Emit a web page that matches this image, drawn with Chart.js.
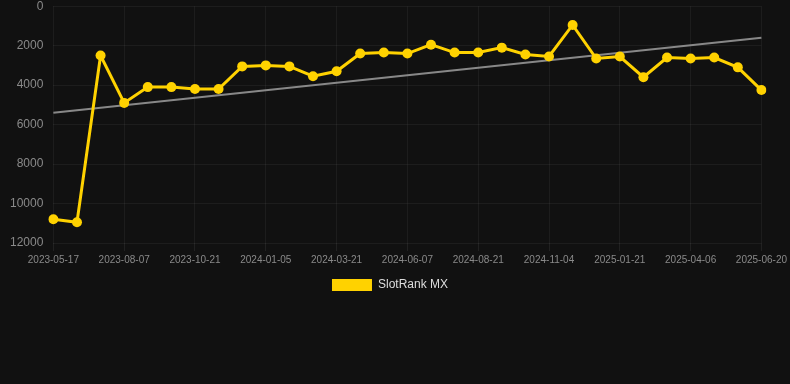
<!DOCTYPE html>
<html>
<head>
<meta charset="utf-8">
<script src="https://cdn.jsdelivr.net/npm/chart.js@4/dist/chart.umd.min.js"></script>
<style>
  html, body { margin: 0; padding: 0; background: #111111; overflow: hidden; }
  #wrap { position: absolute; left: 0; top: -11px; width: 790px; height: 312px; }
</style>
</head>
<body>
<div id="wrap"><canvas id="c"></canvas></div>
<script>
const labels = [
  "2023-05-17","2023-06-13","2023-07-11","2023-08-07","2023-09-01","2023-09-26",
  "2023-10-21","2023-11-15","2023-12-10","2024-01-05","2024-01-30","2024-02-24",
  "2024-03-21","2024-04-16","2024-05-12","2024-06-07","2024-07-02","2024-07-27",
  "2024-08-21","2024-09-15","2024-10-10","2024-11-04","2024-11-30","2024-12-26",
  "2025-01-21","2025-02-15","2025-03-12","2025-04-06","2025-05-01","2025-05-26",
  "2025-06-20"
];
const rankValues = [
  10800, 10950, 2500, 4900, 4100, 4100, 4200, 4200, 3050, 3000, 3050, 3550,
  3300, 2400, 2350, 2400, 1950, 2350, 2350, 2100, 2450, 2550, 950, 2650,
  2550, 3600, 2600, 2650, 2600, 3100, 4250
];
const trendStart = 5400;
const trendEnd = 1600;
const trendValues = labels.map((_, i) => i === 0 ? trendStart : (i === labels.length - 1 ? trendEnd : null));
const yTicks = [0, 2000, 4000, 6000, 8000, 10000, 12000];
const labelStep = 3;

new Chart(document.getElementById('c'), {
  type: 'line',
  data: {
    labels: labels,
    datasets: [
      {
        label: 'SlotRank MX',
        data: rankValues,
        borderColor: '#FFD200',
        backgroundColor: '#FFD200',
        borderWidth: 3,
        pointRadius: 5,
        pointHoverRadius: 5,
        pointBackgroundColor: '#FFD200',
        pointBorderWidth: 0,
        tension: 0
      },
      {
        label: 'trend',
        data: trendValues,
        spanGaps: true,
        borderColor: 'rgba(150,150,150,0.9)',
        borderWidth: 2,
        pointRadius: 0,
        tension: 0
      }
    ]
  },
  options: {
    responsive: true,
    maintainAspectRatio: false,
    animation: false,
    layout: { padding: { top: 0, right: 0, left: 0, bottom: 0 } },
    plugins: {
      legend: {
        position: 'bottom',
        labels: {
          color: '#dddddd',
          font: { family: 'Arial, "Liberation Sans", sans-serif', size: 12 },
          boxWidth: 40,
          boxHeight: 12,
          generateLabels: (chart) => {
            const items = Chart.defaults.plugins.legend.labels.generateLabels(chart);
            return items.filter(it => it.text !== 'trend').map(it => Object.assign(it, { lineWidth: 0, text: it.text + '   ' }));
          }
        }
      },
      tooltip: { enabled: false }
    },
    scales: {
      x: {
        grid: {
          color: (ctx) => (ctx.index % labelStep === 0 ? 'rgba(255,255,255,0.05)' : 'rgba(0,0,0,0)'),
          tickColor: (ctx) => (ctx.index % labelStep === 0 ? 'rgba(255,255,255,0.07)' : 'rgba(0,0,0,0)')
        },
        border: { display: false },
        ticks: {
          color: '#8a8a8a',
          font: { family: 'Arial, "Liberation Sans", sans-serif', size: 10 },
          autoSkip: false,
          maxRotation: 0,
          callback: function(val, idx) { return idx % labelStep === 0 ? labels[idx] : ''; }
        }
      },
      y: {
        reverse: true,
        min: 0,
        max: 12000,
        afterBuildTicks: (axis) => { axis.ticks = yTicks.map(v => ({ value: v })); },
        grid: { color: 'rgba(255,255,255,0.05)', drawTicks: false },
        border: { display: false },
        ticks: {
          color: '#8a8a8a',
          padding: 10,
          font: { family: 'Arial, "Liberation Sans", sans-serif', size: 12 },
          callback: (v) => String(v)
        }
      }
    }
  }
});
</script>
</body>
</html>
